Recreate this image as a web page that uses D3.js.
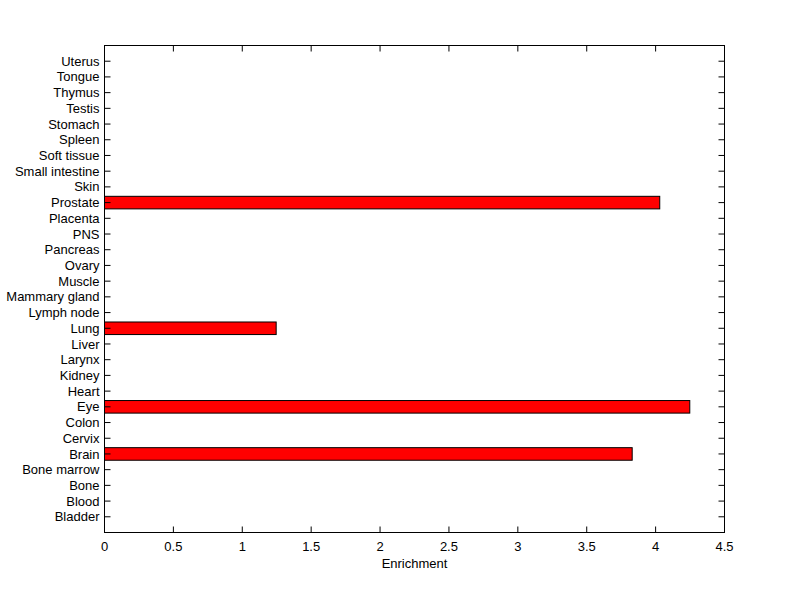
<!DOCTYPE html>
<html><head><meta charset="utf-8">
<script src="https://cdn.jsdelivr.net/npm/d3@7"></script>
<style>body{margin:0;background:#fff}svg{display:block}text{font-family:"Liberation Sans",Arial,sans-serif;font-size:13px;fill:#000}</style>
</head><body><svg id="c" width="800" height="599"></svg>
<script>
const categories = ["Bladder","Blood","Bone","Bone marrow","Brain","Cervix","Colon","Eye","Heart","Kidney","Larynx","Liver","Lung","Lymph node","Mammary gland","Muscle","Ovary","Pancreas","PNS","Placenta","Prostate","Skin","Small intestine","Soft tissue","Spleen","Stomach","Testis","Thymus","Tongue","Uterus"];
const values = [0,0,0,0,3.83,0,0,4.248,0,0,0,0,1.246,0,0,0,0,0,0,0,4.03,0,0,0,0,0,0,0,0,0];
const xTicks = [0,0.5,1,1.5,2,2.5,3,3.5,4,4.5];
const xLabel = "Enrichment";

const svg = d3.select("#c");
const L=104.5, R=724.5, T=45.5, B=532.5;
const x = d3.scaleLinear().domain([0,4.5]).range([L,R]);
const y = d3.scaleLinear().domain([0,categories.length+1]).range([B,T]);
const bh = 0.8*(B-T)/(categories.length+1);

svg.append("g").selectAll("rect").data(values.map((v,i)=>({v,i}))).join("rect")
  .filter(d=>d.v>0)
  .attr("x",x(0)).attr("y",d=>y(d.i+1)-bh/2)
  .attr("width",d=>x(d.v)-x(0)).attr("height",bh)
  .attr("fill","#ff0000").attr("stroke","#000").attr("stroke-width",1);

const tk = 6;
const g = svg.append("g").attr("stroke","#000").attr("stroke-width",1);
xTicks.forEach(t=>{
  g.append("line").attr("x1",x(t)).attr("x2",x(t)).attr("y1",B).attr("y2",B-tk);
  g.append("line").attr("x1",x(t)).attr("x2",x(t)).attr("y1",T).attr("y2",T+tk);
});
categories.forEach((c,i)=>{
  g.append("line").attr("x1",L).attr("x2",L+tk).attr("y1",y(i+1)).attr("y2",y(i+1));
  g.append("line").attr("x1",R).attr("x2",R-tk).attr("y1",y(i+1)).attr("y2",y(i+1));
});
g.append("rect").attr("x",L).attr("y",T).attr("width",R-L).attr("height",B-T).attr("fill","none");

svg.append("g").selectAll("text").data(xTicks).join("text")
  .attr("x",d=>x(d)).attr("y",B+18).attr("text-anchor","middle").text(d=>d);
svg.append("g").selectAll("text").data(categories).join("text")
  .attr("x",L-5).attr("y",(d,i)=>y(i+1)).attr("dy","0.35em").attr("text-anchor","end").text(d=>d);
svg.append("text").attr("x",(L+R)/2).attr("y",B+35).attr("text-anchor","middle").text(xLabel);
</script></body></html>
